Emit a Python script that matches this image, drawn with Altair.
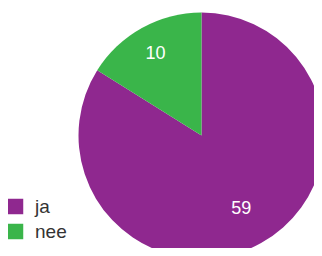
import altair as alt
import pandas as pd

categories = ["ja", "nee"]
values = [59, 10]
# share of the circle each slice covers in the reference drawing (percent)
shares = [83.9, 16.1]
order = [0, 1]
colors = ["#8f288f", "#3ab54a"]

df = pd.DataFrame({"cat": categories, "val": values, "share": shares, "ord": order})

base = alt.Chart(df).encode(
    theta=alt.Theta("share:Q", stack=True),
    order=alt.Order("ord:Q"),
)

arc = base.mark_arc(outerRadius=123, stroke=None).encode(
    x=alt.value(193.5),
    y=alt.value(127.5),
    color=alt.Color(
        "cat:N",
        scale=alt.Scale(domain=categories, range=colors),
        sort=categories,
        legend=alt.Legend(
            title=None,
            orient="none",
            legendX=-2,
            legendY=189,
            symbolType="square",
            symbolSize=240,
            symbolStrokeWidth=0,
            labelFont="Liberation Sans",
            labelFontSize=19,
            labelColor="#333333",
            labelOffset=10,
            rowPadding=5,
        ),
    ),
)

text = base.mark_text(
    radius=88.5, dx=-3, dy=-4,
    font="Liberation Sans", fontSize=18, color="white"
).encode(
    x=alt.value(193.5),
    y=alt.value(127.5),
    text="val:Q",
)

chart = (arc + text).properties(
    width=306, height=240, padding=0, autosize="none", background="white"
).configure_view(stroke=None)

chart.save("out.html", embed_options={"renderer": "svg", "actions": False})
